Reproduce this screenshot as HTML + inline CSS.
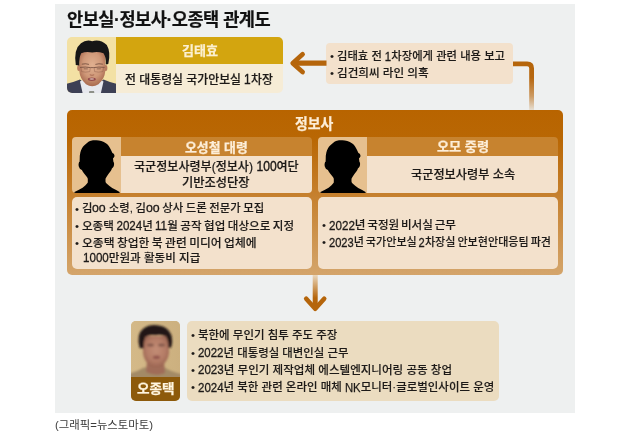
<!DOCTYPE html>
<html lang="ko">
<head>
<meta charset="utf-8">
<title>안보실·정보사·오종택 관계도</title>
<style>
html,body{margin:0;padding:0;background:#fff;}
body{width:621px;height:433px;position:relative;overflow:hidden;font-family:'Liberation Sans','Noto Sans CJK KR',sans-serif;}
.b{position:absolute;}
.m{-webkit-text-stroke:0.2px #1d1a18;}
.m2{-webkit-text-stroke:0.12px #1d1a18;}
.m2 .d{-webkit-text-stroke-width:0.32px;}
.d{display:inline-block;position:relative;top:0.04em;font-size:1.18em;transform:scaleX(0.85);-webkit-text-stroke:0.42px #1d1a18;transform-origin:0 100%;line-height:1;}
.n{-webkit-text-stroke:0.25px #fdeed8;}
.tt{-webkit-text-stroke:0.2px #111;}
.t{position:absolute;white-space:nowrap;line-height:20px;height:20px;transform-origin:0 50%;letter-spacing:0;}
#p1{left:12px;top:33px;width:216.2px;height:56px;}
#panel{left:55px;top:4px;width:520px;height:408.5px;background:#eef0f0;}
#ph1{left:0;top:0;width:49.4px;height:56px;border-radius:5px 0 0 5px;overflow:hidden;background:#f3e1a4;}
#nm1{left:49.4px;top:0;width:166.8px;height:26.6px;border-radius:0 5px 0 0;background:#d3a50f;}
#rl1{left:49.4px;top:26.6px;width:166.8px;height:29.4px;border-radius:0 0 5px 0;background:#f6ecd6;}
#note{left:271px;top:39px;width:187px;height:41px;border-radius:4px;background:#f3e1cc;}
#org{left:12px;top:106px;width:495.5px;height:164.6px;border-radius:5px;background:linear-gradient(180deg,#b86400 0%,#b96704 18%,#c57f2c 50%,#d4a56b 100%);}
.sil{background:#e6c08f;border-radius:4px 0 0 4px;overflow:hidden;}
.hd{background:#c7832f;border-radius:0 4px 0 0;}
.bd{background:#f3e1cc;border-radius:0 0 4px 0;}
.lc{background:#f3e1cc;border-radius:5px;}
#ph2{left:76px;top:317px;width:48.8px;height:79.5px;border-radius:5px;overflow:hidden;background:#d8bc8a;}
#lab2{left:0;top:56px;width:100%;height:24px;background:#8d5a0b;}
#c2{left:132.4px;top:317px;width:311.7px;height:79.5px;border-radius:5px;background:#ebdcc0;}
svg{position:absolute;left:0;top:0;overflow:visible;}
#arrows{left:-55px;top:-4px;}
#foot{left:0;top:412.5px;width:621px;height:20.5px;}
.card{height:55.6px;}
h1,h2,h3,p,ul,li,figure,figcaption,footer,main,section,article{margin:0;padding:0;font:inherit;display:block;}
ul{list-style:none;}
li{height:0;}
</style>
</head>
<body>
<main class="b" id="panel">
<h1><span class="t tt" style="left:12.22px;top:5.94px;font-size:17.7px;font-weight:700;color:#111111;letter-spacing:-0.51px;transform:scaleX(0.9946)">안보실·정보사·오종택 관계도</span></h1>

<section class="b" id="p1">
<div class="b" id="ph1">
<svg width="49.4" height="56" viewBox="0 0 49.4 56">
<defs>
<filter id="bl1" x="-20%" y="-20%" width="140%" height="140%"><feGaussianBlur stdDeviation="0.7"/></filter>
<radialGradient id="fg1" cx="0.5" cy="0.4" r="0.6"><stop offset="0" stop-color="#e0b090"/><stop offset="0.6" stop-color="#cf9878"/><stop offset="1" stop-color="#a96a50"/></radialGradient>
</defs>
<g filter="url(#bl1)">
<path d="M-3 60 L-3 47.5 Q6 45.5 13 42.5 L24.5 52 L36.5 42.5 Q43 45.5 52 47.5 L52 60 Z" fill="#3d3f54"/>
<path d="M13 44.5 L17.5 42 L32 42 L36.5 44.5 L33 60 L16.5 60 Z" fill="#e7e8ee"/>
<path d="M22.3 54 L27 54 L28 60 L21.3 60 Z" fill="#8e9189"/>
<ellipse cx="11.8" cy="31" rx="1.6" ry="3" fill="#b87c60"/>
<ellipse cx="38.8" cy="31" rx="1.6" ry="3" fill="#b87c60"/>
<path d="M12.3 14 L12.3 34 Q13 42 19 47.3 Q25.2 51 31.5 47.3 Q37.6 42 38.3 34 L38.3 14 Z" fill="url(#fg1)"/>
<path d="M8.8 28 Q6.5 12 14 6.3 Q19 2.3 25.2 4.2 Q33 1.8 39.8 8 Q44 15 41.3 27 L38.8 27.5 Q39.3 20.5 36.5 16.2 Q30.5 14.3 25.2 15.6 Q19.5 14 14.2 16.2 Q12 20.5 12.3 28.5 Z" fill="#161417"/>
<path d="M14.8 27.2 Q18.5 26.2 22 27.4 M28.4 27.4 Q32 26.2 35.8 27.2" stroke="#4a2c24" stroke-width="1" fill="none" opacity="0.6"/>
<path d="M13 30.4 Q18.5 29.6 23.4 30.6 L26.8 30.6 Q31.7 29.6 37.6 30.4" stroke="#5c3a30" stroke-width="0.8" fill="none" opacity="0.85"/>
<path d="M16.8 31.8 L20.8 31.9 M29.8 31.9 L33.8 31.8" stroke="#4a2c24" stroke-width="0.9" fill="none" opacity="0.5"/>
<path d="M14 31 L14.6 34.6 Q18.5 35.7 22.8 34.6 L23.2 31 M27.2 31 L27.6 34.6 Q31.7 35.7 35.9 34.6 L36.4 31" stroke="#8a5a48" stroke-width="0.6" fill="none" opacity="0.7"/>
<ellipse cx="24.8" cy="42.3" rx="4" ry="1.7" fill="#93494a"/><ellipse cx="24.8" cy="42" rx="2.4" ry="0.7" fill="#e6d2c8" opacity="0.8"/>
<path d="M22.8 37.8 Q25 38.8 27.2 37.8" stroke="#a86a52" stroke-width="1" fill="none"/>
</g>
</svg>
</div>
<h2 class="b" id="nm1"><span class="t n" style="left:65.25px;top:3.82px;font-size:12.8px;font-weight:700;color:#fbf1cf;transform:scaleX(1.0193)">김태효</span></h2>
<p class="b" id="rl1"><span class="t m" style="left:8.71px;top:6.15px;font-size:12.0px;font-weight:500;color:#1d1a18;transform:scaleX(0.9912)">전 대통령실 국가안보실 <span class="d" style="margin-right:-0.083em">1</span>차장</span></p>
</section>

<ul class="b" id="note">
<li><span class="t bu" style="left:3.74px;top:3.06px;font-size:11.5px;font-weight:500;color:#1d1a18;transform:scaleX(0.999)">•</span> <span class="t m2" style="left:10.55px;top:3.08px;font-size:11.4px;font-weight:500;color:#1d1a18;transform:scaleX(0.9947)">김태효 전 <span class="d" style="margin-right:-0.083em">1</span>차장에게 관련 내용 보고</span></li>
<li><span class="t bu" style="left:3.74px;top:20.26px;font-size:11.5px;font-weight:500;color:#1d1a18;transform:scaleX(0.999)">•</span> <span class="t m2" style="left:10.53px;top:19.84px;font-size:11.4px;font-weight:500;color:#1d1a18;transform:scaleX(1.0155)">김건희씨 라인 의혹</span></li>
</ul>

<svg id="arrows" width="621" height="433" viewBox="0 0 621 433">
<defs>
<linearGradient id="gv1" gradientUnits="userSpaceOnUse" x1="0" y1="64" x2="0" y2="110">
<stop offset="0" stop-color="#b5650b"/><stop offset="0.3" stop-color="#b66710"/><stop offset="0.7" stop-color="#cc9a62"/><stop offset="1" stop-color="#e6dfd3"/>
</linearGradient>
<linearGradient id="gv2" gradientUnits="userSpaceOnUse" x1="0" y1="274" x2="0" y2="298">
<stop offset="0" stop-color="#ecdcc4"/><stop offset="1" stop-color="#b5650b"/>
</linearGradient>
</defs>
<path d="M326.5 63.1 L293.5 63.1" stroke="#b5650b" stroke-width="5.4" fill="none"/>
<path d="M302.6 54.3 L292.7 63.2 L302.6 72.1" stroke="#b5650b" stroke-width="4.7" fill="none" stroke-linecap="round" stroke-linejoin="round"/>
<path d="M513 63.8 L527.2 63.8 Q531.6 63.8 531.6 68.2 L531.6 110" stroke="url(#gv1)" stroke-width="4.8" fill="none"/>
<path d="M315.2 274 L315.2 308" stroke="url(#gv2)" stroke-width="5" fill="none"/>
<path d="M306.2 298.7 L315.2 308.7 L324.2 298.7" stroke="#b5650b" stroke-width="4.6" fill="none" stroke-linecap="round" stroke-linejoin="round"/>
</svg>

<section class="b" id="org">
<h2><span class="t n" style="left:228.21px;top:4.12px;font-size:14.7px;font-weight:700;color:#fdeed8;transform:scaleX(0.9448)">정보사</span></h2>
<article class="b card" style="left:4.8px;top:27px;width:240.2px;">
<div class="b sil" style="left:0;top:0;width:49.2px;height:55.6px;">
<svg width="49" height="56" viewBox="0 0 49 56"><path d="M23.9 3.3 C27 3.2 31 4 34.3 6.4 C36.5 8 38 10.5 38.9 12.8 C39.5 14 40 15.2 40.4 16 C42 16.5 42.8 18 42.4 19.5 C42 20.5 41.3 21 41 21.5 C41.2 22.5 41.3 23.8 41.4 24.8 C42.2 25.5 42.3 27.5 41.8 29 C41.4 30.2 40.6 31 39.9 31.5 C39.2 33.5 38.3 34.8 37.2 35.9 C36 37.5 34.5 39.8 33.5 41.8 L33.5 44.5 C33.8 45.5 34 46 34.6 46.4 C36.5 48 38.5 49.8 40.2 51 C43 52.5 45.5 53.8 47.6 55.1 L47.6 56 L2.3 56 L2.5 55.1 C5 53.8 8 52.3 10.6 50.7 C12.5 49.3 14.8 47.3 15.8 45.5 L15.8 41.8 C15.6 41.2 15.4 40.8 15.1 40.3 C14 39 13 37.8 12.1 36.6 C11.2 35.4 10.4 34 9.9 32.9 C8.5 32.5 7.7 31.8 7.4 30.7 C6.6 29.5 6.3 27.5 6.8 26 C7 25.2 7.3 24.8 7.7 24.5 C7.6 23.8 7.6 23.2 7.7 22.6 C7.6 20 7.8 17.5 8.4 15.2 C9.2 12.5 10.4 10.3 12.1 8.6 C14 6.5 16 4.8 18 3.9 C20 3.4 22 3.3 23.9 3.3 Z" fill="#000"/></svg>
</div>
<h3 class="b hd" style="left:49.2px;top:0;width:191px;height:18.8px;"><span class="t n" style="left:63.96px;top:0.97px;font-size:12.8px;font-weight:700;color:#fdeed8;transform:scaleX(1.0053)">오성철 대령</span></h3>
<p class="b bd" style="left:49.2px;top:18.8px;width:191px;height:36.8px;"><span class="t m" style="left:12.9px;top:0.85px;font-size:12.0px;font-weight:500;color:#1d1a18;transform:scaleX(1.0049)">국군정보사령부(정보사) <span class="d" style="margin-right:-0.250em">100</span>여단</span> <span class="t m" style="left:61.39px;top:17.4px;font-size:12.0px;font-weight:500;color:#1d1a18;transform:scaleX(1.0199)">기반조성단장</span></p>
</article>
<article class="b card" style="left:251px;top:27px;width:240.2px;">
<div class="b sil" style="left:0;top:0;width:49px;height:55.6px;">
<svg width="49" height="56" viewBox="0 0 49 56"><path d="M23.9 3.3 C27 3.2 31 4 34.3 6.4 C36.5 8 38 10.5 38.9 12.8 C39.5 14 40 15.2 40.4 16 C42 16.5 42.8 18 42.4 19.5 C42 20.5 41.3 21 41 21.5 C41.2 22.5 41.3 23.8 41.4 24.8 C42.2 25.5 42.3 27.5 41.8 29 C41.4 30.2 40.6 31 39.9 31.5 C39.2 33.5 38.3 34.8 37.2 35.9 C36 37.5 34.5 39.8 33.5 41.8 L33.5 44.5 C33.8 45.5 34 46 34.6 46.4 C36.5 48 38.5 49.8 40.2 51 C43 52.5 45.5 53.8 47.6 55.1 L47.6 56 L2.3 56 L2.5 55.1 C5 53.8 8 52.3 10.6 50.7 C12.5 49.3 14.8 47.3 15.8 45.5 L15.8 41.8 C15.6 41.2 15.4 40.8 15.1 40.3 C14 39 13 37.8 12.1 36.6 C11.2 35.4 10.4 34 9.9 32.9 C8.5 32.5 7.7 31.8 7.4 30.7 C6.6 29.5 6.3 27.5 6.8 26 C7 25.2 7.3 24.8 7.7 24.5 C7.6 23.8 7.6 23.2 7.7 22.6 C7.6 20 7.8 17.5 8.4 15.2 C9.2 12.5 10.4 10.3 12.1 8.6 C14 6.5 16 4.8 18 3.9 C20 3.4 22 3.3 23.9 3.3 Z" fill="#000"/></svg>
</div>
<h3 class="b hd" style="left:49px;top:0;width:191.2px;height:18.8px;"><span class="t n" style="left:69.54px;top:0.07px;font-size:12.8px;font-weight:700;color:#fdeed8;transform:scaleX(1.0280)">오모 중령</span></h3>
<p class="b bd" style="left:49px;top:18.8px;width:191.2px;height:36.8px;"><span class="t m" style="left:43.69px;top:9px;font-size:12.0px;font-weight:500;color:#1d1a18;transform:scaleX(1.0148)">국군정보사령부 소속</span></p>
</article>
<ul class="b lc" style="left:4.8px;top:87.3px;width:240.2px;height:72.1px;">
<li><span class="t bu" style="left:3.14px;top:1.26px;font-size:11.5px;font-weight:500;color:#1d1a18;transform:scaleX(0.999)">•</span> <span class="t m2" style="left:10.15px;top:1.13px;font-size:11.4px;font-weight:500;color:#1d1a18;word-spacing:-0.60px;transform:scaleX(0.9993)">김<span class="d" style="font-size:1.13em;top:0;transform:scaleX(0.96);margin-right:-0.044em">oo</span> 소령, 김<span class="d" style="font-size:1.13em;top:0;transform:scaleX(0.96);margin-right:-0.044em">oo</span> 상사 드론 전문가 모집</span></li>
<li><span class="t bu" style="left:3.14px;top:18.36px;font-size:11.5px;font-weight:500;color:#1d1a18;transform:scaleX(0.999)">•</span> <span class="t m2" style="left:10.42px;top:18.23px;font-size:11.4px;font-weight:500;color:#1d1a18;word-spacing:-0.69px;transform:scaleX(1.0135)">오종택 <span class="d" style="margin-right:-0.334em">2024</span>년 <span class="d" style="margin-right:-0.167em">11</span>월 공작 협업 대상으로 지정</span></li>
<li><span class="t bu" style="left:3.14px;top:35.96px;font-size:11.5px;font-weight:500;color:#1d1a18;transform:scaleX(0.999)">•</span> <span class="t m2" style="left:10.41px;top:35.83px;font-size:11.4px;font-weight:500;color:#1d1a18;word-spacing:-0.84px;transform:scaleX(1.0341)">오종택 창업한 북 관련 미디어 업체에</span> <span class="t m2" style="left:11.03px;top:50.49px;font-size:11.4px;font-weight:500;color:#1d1a18;transform:scaleX(1.0150)"><span class="d" style="margin-right:-0.334em">1000</span>만원과 활동비 지급</span></li>
</ul>
<ul class="b lc" style="left:251px;top:87.3px;width:240.2px;height:72.1px;">
<li><span class="t bu" style="left:4.34px;top:18.16px;font-size:11.5px;font-weight:500;color:#1d1a18;transform:scaleX(0.999)">•</span> <span class="t m2" style="left:11.12px;top:17.83px;font-size:11.4px;font-weight:500;color:#1d1a18;word-spacing:-1.45px;transform:scaleX(1.0168)"><span class="d" style="margin-right:-0.334em">2022</span>년 국정원 비서실 근무</span></li>
<li><span class="t bu" style="left:4.34px;top:34.96px;font-size:11.5px;font-weight:500;color:#1d1a18;transform:scaleX(0.999)">•</span> <span class="t m2" style="left:11.15px;top:34.98px;font-size:11.4px;font-weight:500;color:#1d1a18;word-spacing:-1.14px;transform:scaleX(0.9716)"><span class="d" style="margin-right:-0.334em">2023</span>년 국가안보실 <span class="d" style="margin-right:-0.083em">2</span>차장실 안보현안대응팀 파견</span></li>
</ul>
</section>

<figure class="b" id="ph2">
<svg width="49.3" height="79.5" viewBox="0 0 49.3 79.5">
<defs>
<filter id="bl2" x="-20%" y="-20%" width="140%" height="140%"><feGaussianBlur stdDeviation="1.15"/></filter>
<radialGradient id="fg2" cx="0.5" cy="0.45" r="0.6"><stop offset="0" stop-color="#c38d76"/><stop offset="0.6" stop-color="#b47c66"/><stop offset="1" stop-color="#96604e"/></radialGradient>
<linearGradient id="bg2" x1="0" y1="0" x2="1" y2="0"><stop offset="0" stop-color="#d4b988"/><stop offset="1" stop-color="#ccb07f"/></linearGradient>
</defs>
<rect x="0" y="0" width="49.3" height="58" fill="url(#bg2)"/>
<g filter="url(#bl2)">
<path d="M-3 60 L-3 53 Q6 51 13 46.5 L33 46 Q38 50 52 53.5 L52 60 Z" fill="#a38a66"/>
<path d="M16 40 L33 40 L34 52 Q25 56 15 51 Z" fill="#a06c58"/>
<path d="M12 15 L12 32 Q13 40 19 44.5 Q25 47.5 31 44.5 Q37 40 38 32 L38 15 Z" fill="url(#fg2)"/>
<path transform="translate(24.5 0) scale(0.93 1) translate(-24.5 0)" d="M7.5 27 Q3.5 13 11.5 7.5 Q19 2.8 28 4.6 Q38 6 41.5 14 Q43.5 21 41 27 L38.4 26.5 Q38.6 19.5 35.5 15.3 Q30 12.8 24.5 14.2 Q18 13.2 13.5 16 Q11.3 21 11.8 27.5 Z" fill="#241816"/>
<ellipse cx="19.5" cy="24" rx="3.4" ry="1.5" fill="#6e483e" opacity="0.7"/>
<ellipse cx="30.5" cy="24" rx="3.4" ry="1.5" fill="#6e483e" opacity="0.7"/>
<ellipse cx="25.5" cy="36.3" rx="3.6" ry="1.8" fill="#8c4c48" opacity="0.85"/>
</g>
</svg>
<figcaption class="b" id="lab2"><span class="t n" style="left:5.72px;top:1.77px;font-size:12.8px;font-weight:700;color:#fff6e0;transform:scaleX(1.0655)">오종택</span></figcaption>
</figure>
<ul class="b" id="c2">
<li><span class="t bu" style="left:3.74px;top:4.06px;font-size:11.5px;font-weight:500;color:#1d1a18;transform:scaleX(0.999)">•</span> <span class="t m2" style="left:10.33px;top:4.04px;font-size:11.4px;font-weight:500;color:#1d1a18;transform:scaleX(1.0069)">북한에 무인기 침투 주도 주장</span></li>
<li><span class="t bu" style="left:3.74px;top:21.66px;font-size:11.5px;font-weight:500;color:#1d1a18;transform:scaleX(0.999)">•</span> <span class="t m2" style="left:10.33px;top:21.69px;font-size:11.4px;font-weight:500;color:#1d1a18;transform:scaleX(1.0024)"><span class="d" style="margin-right:-0.334em">2022</span>년 대통령실 대변인실 근무</span></li>
<li><span class="t bu" style="left:3.74px;top:38.86px;font-size:11.5px;font-weight:500;color:#1d1a18;transform:scaleX(0.999)">•</span> <span class="t m2" style="left:10.32px;top:38.89px;font-size:11.4px;font-weight:500;color:#1d1a18;transform:scaleX(1.0129)"><span class="d" style="margin-right:-0.334em">2023</span>년 무인기 제작업체 에스텔엔지니어링 공동 창업</span></li>
<li><span class="t bu" style="left:3.74px;top:56.26px;font-size:11.5px;font-weight:500;color:#1d1a18;transform:scaleX(0.999)">•</span> <span class="t m2" style="left:10.33px;top:56.19px;font-size:11.4px;font-weight:500;color:#1d1a18;transform:scaleX(1.0062)"><span class="d" style="margin-right:-0.334em">2024</span>년 북한 관련 온라인 매체 <span class="d" style="font-size:1.1em;transform:scaleX(0.9);-webkit-text-stroke-width:0.25px;margin-right:-0.139em">NK</span>모니터·글로벌인사이트 운영</span></li>
</ul>
</main>
<footer class="b" id="foot"><span class="t" style="left:55.15px;top:2.29px;font-size:11.1px;font-weight:400;color:#3c3c3c;transform:scaleX(1.0269)">(그래픽=뉴스토마토)</span></footer>
</body>
</html>
